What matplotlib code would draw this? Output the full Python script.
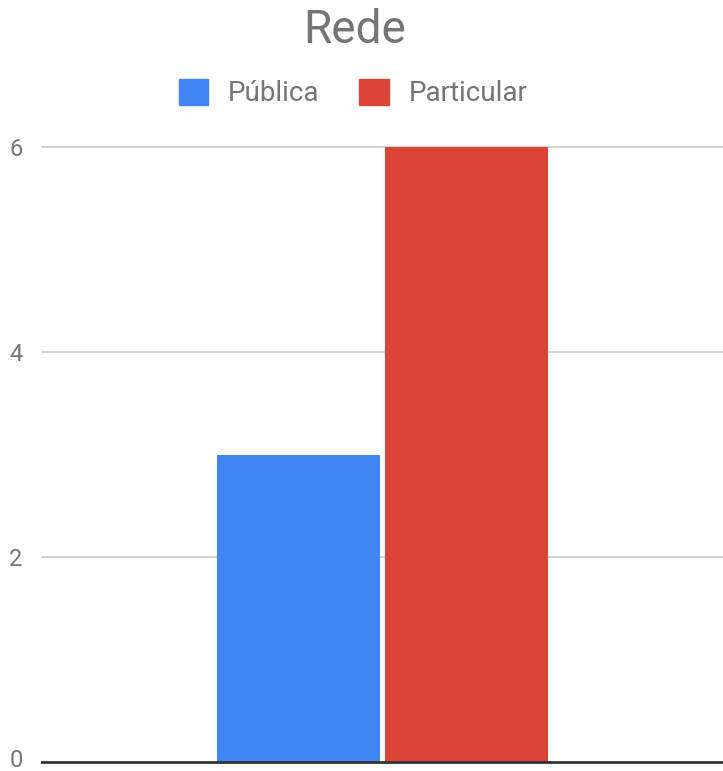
import matplotlib
matplotlib.use("Agg")
import matplotlib.pyplot as plt
from matplotlib.patches import Patch
from matplotlib.transforms import ScaledTranslation

plt.rcParams['font.family'] = ['Roboto', 'DejaVu Sans']

# data
series = ["Pública", "Particular"]
values = [3, 6]
colors = ["#4285F4", "#DB4437"]
yticks = [0, 2, 4, 6]

fig = plt.figure(figsize=(7.23, 7.71), dpi=100)
ax = fig.add_axes([42 / 723, 1 - 762 / 771, 1 - 42 / 723, (762 - 147) / 771])

width = 0.24
offsets = [-width / 2 - 0.003, width / 2 + 0.003]
for name, val, col, off in zip(series, values, colors, offsets):
    ax.bar(off, val, width=width, color=col, label=name, zorder=3)

ax.set_xlim(-0.5, 0.5)
ax.set_ylim(0, 6)
ax.set_yticks(yticks)
ax.set_yticklabels([str(t) for t in yticks])
ax.set_xticks([])
ax.tick_params(axis='y', length=0, pad=14, labelsize=17, labelcolor="#757575")
# nudge the bottom label up so it stays inside the figure
lbl0 = ax.get_yticklabels()[0]
lbl0.set_transform(lbl0.get_transform() + ScaledTranslation(0, 4 / 100, fig.dpi_scale_trans))
for t in yticks[1:]:
    ax.axhline(t, color="#cccccc", lw=1.2, zorder=1, clip_on=False)
ax.axhline(0, color="#333333", lw=2, zorder=4, clip_on=False)
for s in ax.spines.values():
    s.set_visible(False)

fig.text(0.49, 1 - 30 / 771, "Rede", ha="center", va="center",
         fontsize=33, color="#757575")

handles = [Patch(facecolor=c, edgecolor=c, label=n) for n, c in zip(series, colors)]
fig.legend(handles=handles, loc="center", bbox_to_anchor=(353 / 723, 1 - 93 / 771),
           ncol=2, frameon=False, fontsize=20, labelcolor="#757575",
           handlelength=1.05, handleheight=1.05, handletextpad=0.72,
           columnspacing=1.45)

fig.savefig("out.png", dpi=100)
